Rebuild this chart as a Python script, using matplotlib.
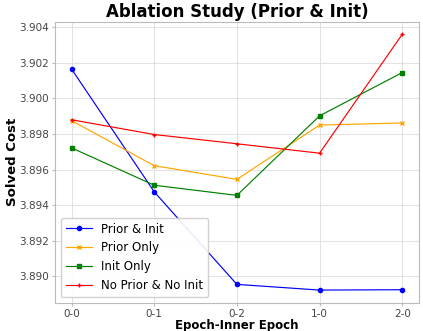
import matplotlib
matplotlib.use("Agg")
import matplotlib.pyplot as plt

epochs = ["0-0", "0-1", "0-2", "1-0", "2-0"]
prior_init = [3.90165, 3.89475, 3.88955, 3.88923, 3.88925]
prior_only = [3.89875, 3.89622, 3.89545, 3.89850, 3.89862]
init_only = [3.89722, 3.89512, 3.89455, 3.89902, 3.90145]
no_prior_no_init = [3.89880, 3.89797, 3.89745, 3.89692, 3.90360]

series = [
    ("Prior & Init", prior_init, "blue", "o"),
    ("Prior Only", prior_only, "orange", "x"),
    ("Init Only", init_only, "green", "s"),
    ("No Prior & No Init", no_prior_no_init, "red", "+"),
]

fig, ax = plt.subplots(figsize=(4.23, 3.31), dpi=100)

x = range(len(epochs))
for label, vals, color, marker in series:
    ax.plot(x, vals, color=color, marker=marker, markersize=3, linewidth=0.85, label=label)

ax.set_xticks(list(x))
ax.set_xticklabels(epochs)
ax.set_title("Ablation Study (Prior & Init)", fontsize=12, fontweight="bold", pad=3)
ax.set_xlabel("Epoch-Inner Epoch", fontsize=8.5, fontweight="bold", labelpad=0)
ax.set_ylabel("Solved Cost", fontsize=9.5, fontweight="bold", labelpad=0)
ax.yaxis.set_major_formatter(matplotlib.ticker.FormatStrFormatter("%.3f"))
ax.tick_params(labelsize=7.5, labelcolor="#444444", color="#bbbbbb", length=2.5, pad=2)
ax.grid(True, color="#dddddd", linewidth=0.6)
for s in ax.spines.values():
    s.set_color("#bbbbbb")
ax.legend(loc="lower left", fontsize=8.5, handlelength=2.2, framealpha=0.9)

fig.subplots_adjust(left=0.13, right=0.99, top=0.935, bottom=0.085)
fig.savefig("out.png", dpi=100)
